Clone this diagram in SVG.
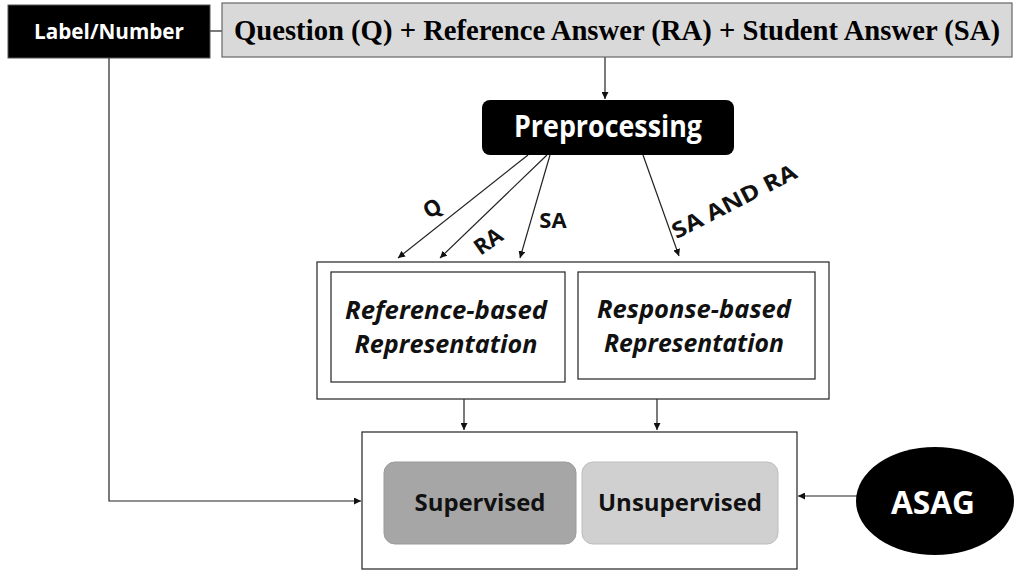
<svg xmlns="http://www.w3.org/2000/svg" width="1016" height="573" viewBox="0 0 1016 573">
  <defs>
    <marker id="arrow" viewBox="0 0 10 10" refX="10" refY="5" markerWidth="7" markerHeight="7" markerUnits="userSpaceOnUse" orient="auto">
      <path d="M0,0 L10,5 L0,10 z" fill="#111"/>
    </marker>
    <style>
      .edge { fill: none; stroke: #222; stroke-width: 1.2; }
      .sans { font-family: "Open Sans", "Noto Sans", "Liberation Sans", sans-serif; font-weight: bold; }
      .serif { font-family: "Liberation Serif", "DejaVu Serif", serif; font-weight: bold; }
      .frame { fill: #fff; stroke: #333; stroke-width: 1.3; }
      .lbl { font-size: 22px; fill: #111; text-anchor: middle; }
      .rep { font-size: 25px; font-style: italic; fill: #111; text-anchor: middle; }
    </style>
  </defs>

  <rect width="1016" height="573" fill="#fff"/>

  <!-- connectors -->
  <g id="connectors">
    <path class="edge" d="M210,31 H222"/>
    <path class="edge" d="M605,57 V99" marker-end="url(#arrow)"/>
    <path class="edge" d="M528,155 L398,258" marker-end="url(#arrow)"/>
    <path class="edge" d="M547,155 L440,258" marker-end="url(#arrow)"/>
    <path class="edge" d="M550,155 L520,258" marker-end="url(#arrow)"/>
    <path class="edge" d="M643,155 L679,256" marker-end="url(#arrow)"/>
    <path class="edge" d="M464,382 V430" marker-end="url(#arrow)"/>
    <path class="edge" d="M657,379 V430" marker-end="url(#arrow)"/>
    <path class="edge" d="M109,58 V501 H361" marker-end="url(#arrow)"/>
    <path class="edge" d="M857,496 H798" marker-end="url(#arrow)"/>

    <text class="sans lbl" x="432" y="216" transform="rotate(-30 432 208)">Q</text>
    <text class="sans lbl" x="488" y="249" transform="rotate(-35 488 241)">RA</text>
    <text class="sans lbl" x="553" y="228">SA</text>
    <text class="sans lbl" x="734" y="209" transform="rotate(-27 734 201)" textLength="137" lengthAdjust="spacingAndGlyphs">SA AND RA</text>
  </g>

  <g id="label-number">
    <rect x="8" y="5" width="202" height="53" fill="#000" stroke="#555" stroke-width="1"/>
    <text class="sans" x="109" y="39" font-size="22" fill="#fff" text-anchor="middle" textLength="150" lengthAdjust="spacingAndGlyphs">Label/Number</text>
  </g>

  <g id="inputs">
    <rect x="222" y="3" width="790" height="54" fill="#d9d9d9" stroke="#666" stroke-width="1.2"/>
    <text class="serif" x="617" y="40" font-size="29" fill="#000" text-anchor="middle" textLength="766" lengthAdjust="spacingAndGlyphs">Question (Q) + Reference Answer (RA) + Student Answer (SA)</text>
  </g>

  <g id="preprocessing">
    <rect x="482" y="100" width="252" height="55" rx="8" fill="#000"/>
    <text class="sans" x="608" y="137" font-size="30" fill="#fff" text-anchor="middle" textLength="188" lengthAdjust="spacingAndGlyphs">Preprocessing</text>
  </g>

  <g id="representation">
    <rect class="frame" x="317" y="262" width="512" height="137"/>
    <g id="reference-based">
      <rect class="frame" x="331" y="272" width="234" height="110"/>
      <text class="sans rep" x="446" y="319" textLength="202" lengthAdjust="spacingAndGlyphs">Reference-based</text>
      <text class="sans rep" x="446" y="353" textLength="183" lengthAdjust="spacingAndGlyphs">Representation</text>
    </g>
    <g id="response-based">
      <rect class="frame" x="578" y="272" width="237" height="107"/>
      <text class="sans rep" x="694" y="318" textLength="194" lengthAdjust="spacingAndGlyphs">Response-based</text>
      <text class="sans rep" x="694" y="352" textLength="180" lengthAdjust="spacingAndGlyphs">Representation</text>
    </g>
  </g>

  <g id="learning">
    <rect class="frame" x="362" y="432" width="435" height="137"/>
    <g id="supervised">
      <rect x="384" y="462" width="192" height="82" rx="11" fill="#a6a6a6" stroke="#9a9a9a" stroke-width="1"/>
      <text class="sans" x="480" y="511" font-size="24" fill="#111" text-anchor="middle" textLength="131" lengthAdjust="spacingAndGlyphs">Supervised</text>
    </g>
    <g id="unsupervised">
      <rect x="582" y="462" width="196" height="82" rx="11" fill="#d0d0d0" stroke="#bdbdbd" stroke-width="1"/>
      <text class="sans" x="680" y="511" font-size="24" fill="#111" text-anchor="middle" textLength="164" lengthAdjust="spacingAndGlyphs">Unsupervised</text>
    </g>
  </g>

  <g id="asag">
    <ellipse cx="935" cy="501" rx="79" ry="54" fill="#000"/>
    <text class="sans" x="933" y="514" font-size="33" fill="#fff" text-anchor="middle" textLength="84" lengthAdjust="spacingAndGlyphs">ASAG</text>
  </g>
</svg>
